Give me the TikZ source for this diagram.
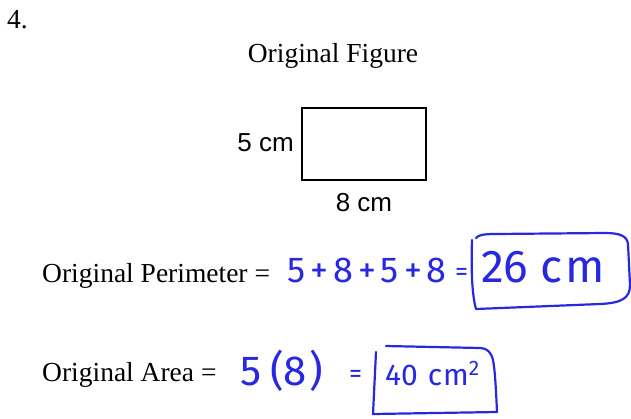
\documentclass[tikz,border=0pt]{standalone}
\usepackage{fontspec}
\setmainfont{Liberation Serif}
\newfontfamily\arialf{Liberation Sans}
\newfontfamily\handf{Fira Sans}
\definecolor{ink}{RGB}{40,40,225}
\begin{document}
\begin{tikzpicture}[x=1pt,y=-1pt,
  serif/.style={inner sep=0pt,anchor=base west,font=\fontsize{27.5}{32}\selectfont},
  sans/.style={inner sep=0pt,font=\arialf\fontsize{26}{30}\selectfont},
  hand/.style={inner sep=0pt,anchor=base west,text=ink,font=\handf\fontsize{36}{40}\selectfont},
  handbox/.style={draw=ink,line width=2.2pt,line join=round,line cap=round}]
\useasboundingbox (0,0) rectangle (631,418);
\fill[white] (0,0) rectangle (631,418);
\node[serif] (num) at (7,28) {4.};
\node[serif,anchor=base] (title) at (333,62) {Original Figure};
\draw[line width=1.3pt] (302,108) rectangle (426,180);
\node[sans,anchor=east] (five) at (294,143) {5 cm};
\node[sans,anchor=north] (eight) at (364,193) {8 cm};
\node[serif] (per) at (42,282) {Original Perimeter =};
\node[hand] (sum) at (287,282) {5\hspace{5pt}+\hspace{5pt}8\hspace{5pt}+\hspace{5pt}5\hspace{5pt}+\hspace{5pt}8};
\node[hand,font=\handf\fontsize{26}{30}\selectfont] (colon1) at (455,280) {=};
\node[hand,font=\handf\fontsize{46}{50}\selectfont] (p26) at (481,282) {26\hspace{12pt}c\hspace{3pt}m};
\draw[handbox] (472,240) .. controls (471,270) and (472,295) .. (476,309)
  -- (600,304) .. controls (622,303) and (630,298) .. (630,285)
  -- (628,244) .. controls (627,236) and (620,233) .. (605,233)
  -- (495,234) .. controls (484,234) and (478,235) .. (476,238);
\node[serif] (area) at (42,381) {Original Area =};
\node[hand,font=\handf\fontsize{42}{46}\selectfont] (prod) at (240,385) {5\hspace{9pt}(8\hspace{3pt})};
\node[hand,font=\handf\fontsize{26}{30}\selectfont] (colon2) at (349,382) {=};
\node[hand,font=\handf\fontsize{30}{34}\selectfont] (a40) at (385,385) {40\hspace{10pt}c\hspace{1pt}m\textsuperscript{2}};
\draw[handbox] (376,352) -- (373,414) -- (497,412)
  .. controls (496,390) and (495,370) .. (493,360)
  .. controls (491,352) and (487,348) .. (480,348) -- (386,346);
\end{tikzpicture}
\end{document}
